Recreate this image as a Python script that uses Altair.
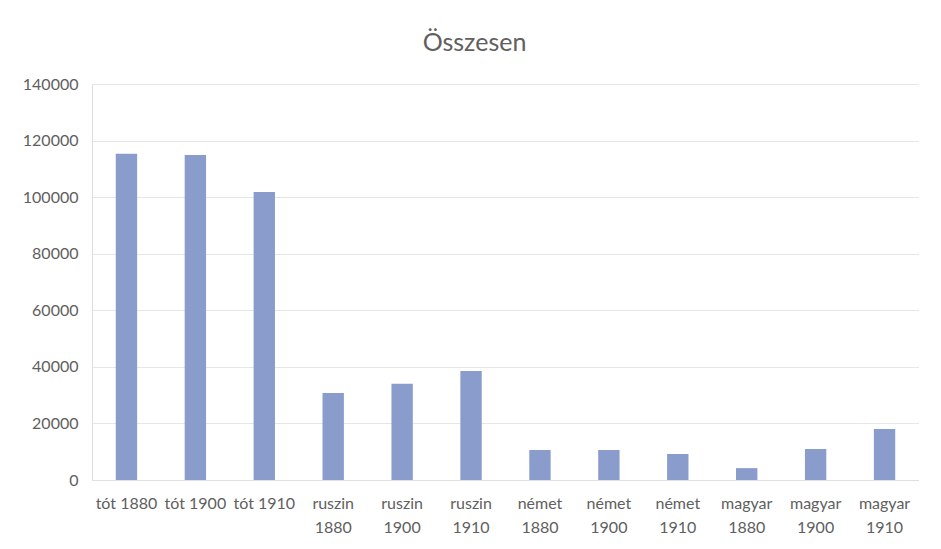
import altair as alt
import pandas as pd

categories = ["tót 1880", "tót 1900", "tót 1910",
              "ruszin 1880", "ruszin 1900", "ruszin 1910",
              "német 1880", "német 1900", "német 1910",
              "magyar 1880", "magyar 1900", "magyar 1910"]
values = [115300, 114900, 101800,
          30800, 34000, 38500,
          10600, 10600, 9200,
          4200, 11000, 18000]

df = pd.DataFrame({"cat": categories, "val": values})

FONT = "Lato"

chart = alt.Chart(df).mark_bar(color="#8A9CCC").encode(
    x=alt.X("cat:N", sort=categories, title=None,
            scale=alt.Scale(paddingInner=0.69, paddingOuter=0.345),
            axis=alt.Axis(labelAngle=0, ticks=False, grid=False, domainColor="#e0e0e0",
                          labelColor="#606060", labelFontSize=16, labelFont=FONT,
                          labelPadding=23, labelLineHeight=24, labelBaseline="middle",
                          labelExpr="indexof(datum.label, 'tót') == 0 ? datum.label : split(datum.label, ' ')")),
    y=alt.Y("val:Q", title=None,
            scale=alt.Scale(domain=[0, 140000], nice=False),
            axis=alt.Axis(values=[0, 20000, 40000, 60000, 80000, 100000, 120000, 140000],
                          format="d", ticks=False, domain=False, gridColor="#e6e6e6",
                          labelColor="#606060", labelFontSize=16, labelFont=FONT,
                          labelPadding=14)),
).properties(
    width=827, height=396,
    title=alt.TitleParams("Összesen", fontSize=25, font=FONT, fontWeight="normal",
                          color="#606060", anchor="middle", offset=20, dx=-31),
    autosize=alt.AutoSizeParams(type="none"),
    padding={"left": 84, "top": 76, "right": 0, "bottom": 60},
).configure_view(strokeWidth=0, stroke=None).configure_axisY(domain=False).configure(background="white")

chart.save("out.html", embed_options={"renderer": "svg", "actions": False})
